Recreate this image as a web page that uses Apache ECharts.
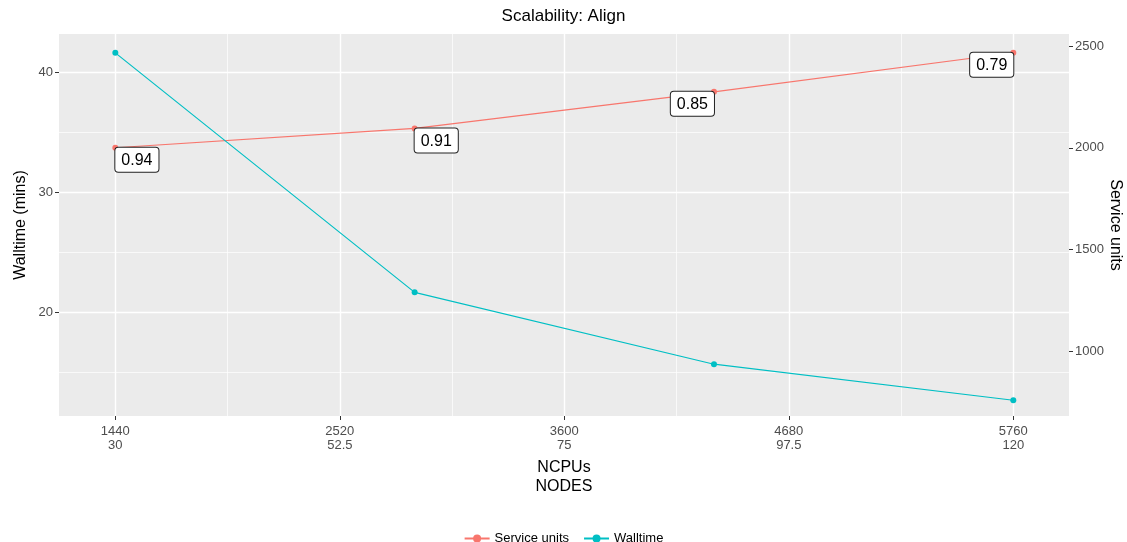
<!DOCTYPE html>
<html>
<head>
<meta charset="utf-8">
<script src="https://cdn.jsdelivr.net/npm/echarts@6/dist/echarts.min.js"></script>
<style>
  html, body { margin: 0; padding: 0; background: #fff; }
  #main { width: 1127px; height: 542px; }
</style>
</head>
<body>
<div id="main"></div>
<script>
// data
var ncpus = [1440, 2880, 4320, 5760];
var walltime = [41.6, 21.67, 15.69, 12.69];
var serviceUnits = [2000, 2095, 2275, 2467];
var efficiency = ['0.94', '0.91', '0.85', '0.79'];

// axis ticks
var ncpuTicks = [1440, 2520, 3600, 4680, 5760];
var nodeTicks = ['30', '52.5', '75', '97.5', '120'];
var ncpuMinor = [1980, 3060, 4140, 5220];
var wallTicks = [20, 30, 40];
var wallMinor = [15, 25, 35];
var suTicks = [1000, 1500, 2000, 2500];

var FONT = '"Liberation Sans", Arial, sans-serif';
var RED = '#F8766D';
var TEAL = '#00BFC4';

var chart = echarts.init(document.getElementById('main'));

function gridLines(vals, key, w) {
    return vals.map(function (v) {
        var o = {};
        o[key] = v;
        o.lineStyle = { width: w };
        return o;
    });
}

var labelLeft = { position: [3, 3], align: 'left', verticalAlign: 'top' };
var labelRight = { position: [3, 3], align: 'right', verticalAlign: 'top' };

var suData = ncpus.map(function (x, i) {
    return { value: [x, serviceUnits[i]], label: i < 2 ? labelLeft : labelRight };
});
var wallData = ncpus.map(function (x, i) { return [x, walltime[i]]; });

var option = {
    animation: false,
    textStyle: { fontFamily: FONT },
    title: {
        text: 'Scalability: Align',
        left: 'center',
        top: 3,
        textStyle: { fontSize: 17, fontWeight: 'normal', color: '#000', fontFamily: FONT }
    },
    legend: {
        top: 527,
        left: 'center',
        itemWidth: 25,
        itemHeight: 10,
        itemGap: 14,
        textStyle: { fontSize: 13, color: '#000', fontFamily: FONT },
        data: ['Service units', 'Walltime']
    },
    grid: {
        left: 59, right: 58, top: 34, bottom: 126,
        outerBoundsMode: 'none',
        containLabel: false,
        show: true, backgroundColor: '#EBEBEB', borderWidth: 0
    },
    xAxis: {
        type: 'value',
        min: 1169, max: 6028,
        name: 'NCPUs\nNODES',
        nameLocation: 'middle',
        nameGap: 42,
        nameTextStyle: { fontSize: 16, color: '#000', lineHeight: 19, fontFamily: FONT },
        axisLine: { show: false },
        axisTick: { show: true, length: 4, lineStyle: { color: '#333' }, customValues: ncpuTicks },
        axisLabel: {
            customValues: ncpuTicks,
            margin: 8,
            fontSize: 13, lineHeight: 14, color: '#4D4D4D',
            formatter: function (v) { return v + '\n' + nodeTicks[ncpuTicks.indexOf(v)]; }
        },
        splitLine: { show: false }
    },
    yAxis: [{
        type: 'value',
        min: 11.38, max: 43.17,
        name: 'Walltime (mins)',
        nameLocation: 'middle',
        nameGap: 30,
        nameMoveOverlap: false,
        nameTextStyle: { fontSize: 16, color: '#000', fontFamily: FONT },
        axisLine: { show: false },
        axisTick: { show: true, length: 4, lineStyle: { color: '#333' }, customValues: wallTicks },
        axisLabel: { customValues: wallTicks, margin: 6, fontSize: 13, color: '#4D4D4D' },
        splitLine: { show: false }
    }, {
        type: 'value',
        position: 'right',
        min: 682, max: 2559,
        name: 'Service units',
        nameLocation: 'middle',
        nameRotate: -90,
        nameGap: 38,
        nameMoveOverlap: false,
        nameTextStyle: { fontSize: 16, color: '#000', fontFamily: FONT },
        axisLine: { show: false },
        axisTick: { show: true, length: 4, lineStyle: { color: '#333' }, customValues: suTicks },
        axisLabel: {
            customValues: suTicks, margin: 6, fontSize: 13, color: '#4D4D4D',
            formatter: function (v) { return String(v); }
        },
        splitLine: { show: false }
    }],
    series: [{
        name: 'grid',
        type: 'line',
        data: [],
        z: 1,
        silent: true,
        markLine: {
            silent: true,
            z: 1,
            symbol: 'none',
            label: { show: false },
            lineStyle: { color: '#fff', type: 'solid' },
            data: gridLines(ncpuMinor, 'xAxis', 0.7)
                .concat(gridLines(wallMinor, 'yAxis', 0.7))
                .concat(gridLines(ncpuTicks, 'xAxis', 1.4))
                .concat(gridLines(wallTicks, 'yAxis', 1.4))
        }
    }, {
        name: 'Service units',
        type: 'line',
        yAxisIndex: 1,
        data: suData,
        z: 3,
        symbol: 'circle',
        symbolSize: 6,
        itemStyle: { color: RED },
        lineStyle: { color: RED, width: 1.2 },
        label: {
            show: true,
            formatter: function (p) { return efficiency[p.dataIndex]; },
            fontSize: 16,
            color: '#000',
            backgroundColor: '#fff',
            borderColor: '#222',
            borderWidth: 1,
            borderRadius: 3,
            padding: [5, 6, 3, 6],
            fontFamily: FONT
        }
    }, {
        name: 'Walltime',
        type: 'line',
        yAxisIndex: 0,
        data: wallData,
        z: 3,
        symbol: 'circle',
        symbolSize: 6,
        itemStyle: { color: TEAL },
        lineStyle: { color: TEAL, width: 1.2 }
    }]
};
chart.setOption(option);
</script>
</body>
</html>
